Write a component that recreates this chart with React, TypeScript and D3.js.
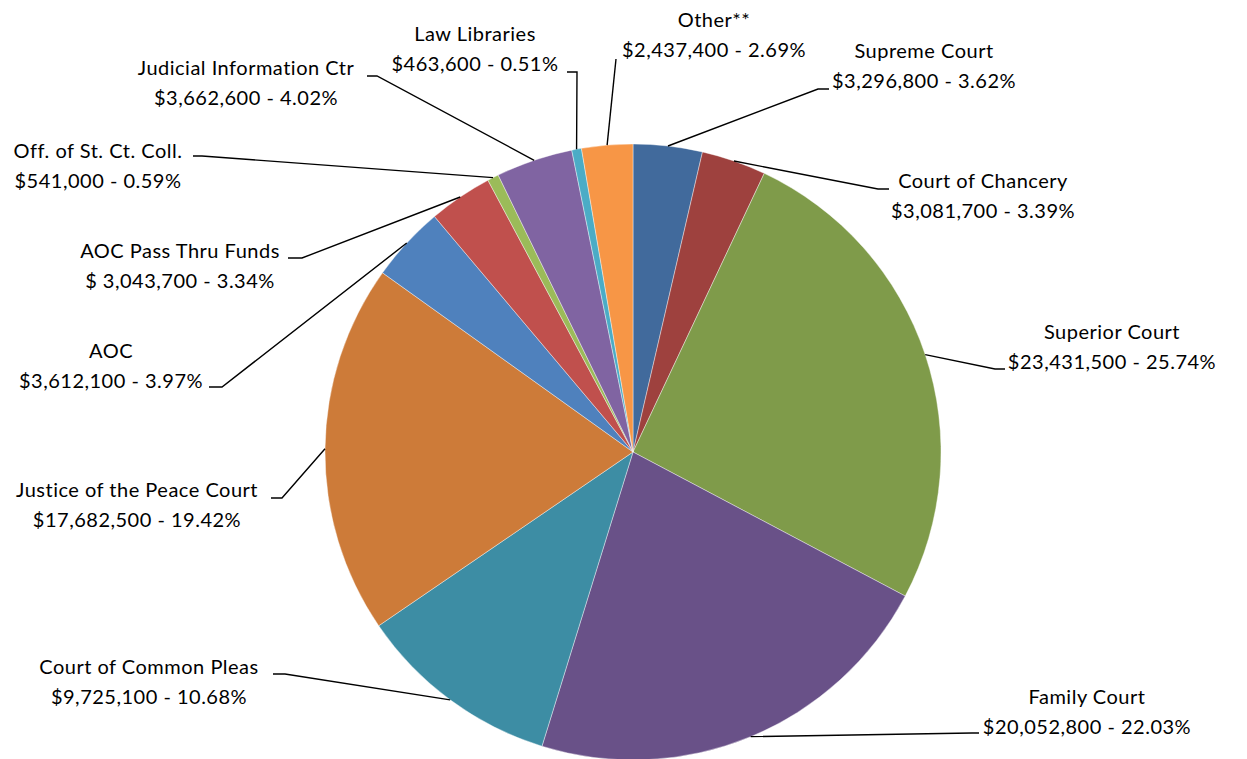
import React, { useEffect, useRef } from "react";
import * as d3 from "d3";

// slices in drawing order, clockwise from 12 o'clock
const names = [
  "Supreme Court",
  "Court of Chancery",
  "Superior Court",
  "Family Court",
  "Court of Common Pleas",
  "Justice of the Peace Court",
  "AOC",
  "AOC Pass Thru Funds",
  "Off. of St. Ct. Coll.",
  "Judicial Information Ctr",
  "Law Libraries",
  "Other**",
];
const amounts = [
  3296800, 3081700, 23431500, 20052800, 9725100, 17682500,
  3612100, 3043700, 541000, 3662600, 463600, 2437400,
];
const percents = ["3.62", "3.39", "25.74", "22.03", "10.68", "19.42", "3.97", "3.34", "0.59", "4.02", "0.51", "2.69"];
const dollarSign = ["$", "$", "$", "$", "$", "$", "$", "$ ", "$", "$", "$", "$"];
const colors = [
  "#416a9c", "#9e413e", "#7f9b4a", "#695188", "#3d8da4", "#cd7b39",
  "#4f81bd", "#c0504d", "#9bbb59", "#8064a2", "#4bacc6", "#f79646",
];

// label placement: text centre, first baseline, leader elbow and tail
const labelLayout = [
  { tx: 924, ty: 58, ex: 818, ey: 89, tail: 829 },
  { tx: 983, ty: 188, ex: 878, ey: 189, tail: 889 },
  { tx: 1112, ty: 339, ex: 995, ey: 369, tail: 1005 },
  { tx: 1087, ty: 704, ex: 972, ey: 733, tail: 979 },
  { tx: 149, ty: 674, ex: 285, ey: 674, tail: 273 },
  { tx: 137, ty: 497, ex: 282, ey: 498, tail: 271 },
  { tx: 111, ty: 358, ex: 222, ey: 387, tail: 209 },
  { tx: 180, ty: 258, ex: 302, ey: 258, tail: 288 },
  { tx: 98, ty: 158, ex: 202, ey: 156, tail: 193 },
  { tx: 246, ty: 75, ex: 377, ey: 76, tail: 367 },
  { tx: 475, ty: 41, ex: 577, ey: 72, tail: 567 },
  { tx: 714, ty: 27, ex: 616, ey: 59, tail: 616 },
];

const App = () => {
  const svgRef = useRef(null);

  useEffect(() => {
    const width = 1247;
    const height = 759;
    const cx = 633;
    const cy = 452;
    const radius = 308;

    const svg = d3.select(svgRef.current)
      .attr("width", width)
      .attr("height", height);
    svg.selectAll("*").remove();

    const data = names.map((n, i) => ({ name: n, value: amounts[i], i }));

    const pie = d3.pie().value(d => d.value).sort(null);
    const arcs = pie(data);
    const arc = d3.arc().innerRadius(0).outerRadius(radius);

    const g = svg.append("g").attr("transform", `translate(${cx},${cy})`);

    g.selectAll("path.slice")
      .data(arcs)
      .join("path")
      .attr("class", "slice")
      .attr("d", arc)
      .attr("fill", d => colors[d.data.i])
      .attr("stroke", "#ffffff")
      .attr("stroke-width", 0.4);

    // leader lines + two-line labels
    const fmt = d3.format(",");
    arcs.forEach(d => {
      const L = labelLayout[d.data.i];
      const mid = (d.startAngle + d.endAngle) / 2;
      const sx = cx + radius * Math.sin(mid);
      const sy = cy - radius * Math.cos(mid);
      svg.append("path")
        .attr("d", d3.line()([[sx, sy], [L.ex, L.ey], [L.tail, L.ey]]))
        .attr("fill", "none")
        .attr("stroke", "#000")
        .attr("stroke-width", 1.4);

      const t = svg.append("text")
        .attr("x", L.tx)
        .attr("y", L.ty)
        .attr("text-anchor", "middle")
        .attr("font-family", "Lato, 'Open Sans', sans-serif")
        .attr("font-size", 20)
        .attr("letter-spacing", 0.5)
        .attr("fill", "#000");
      t.append("tspan").attr("x", L.tx).text(d.data.name);
      t.append("tspan")
        .attr("x", L.tx)
        .attr("dy", 30)
        .text(`${dollarSign[d.data.i]}${fmt(d.data.value)} - ${percents[d.data.i]}%`);
    });
  }, []);

  return (
    <div style={{ position: "absolute", left: 0, top: 0 }}>
      <svg ref={svgRef} style={{ display: "block" }}></svg>
    </div>
  );
};

export default App;
